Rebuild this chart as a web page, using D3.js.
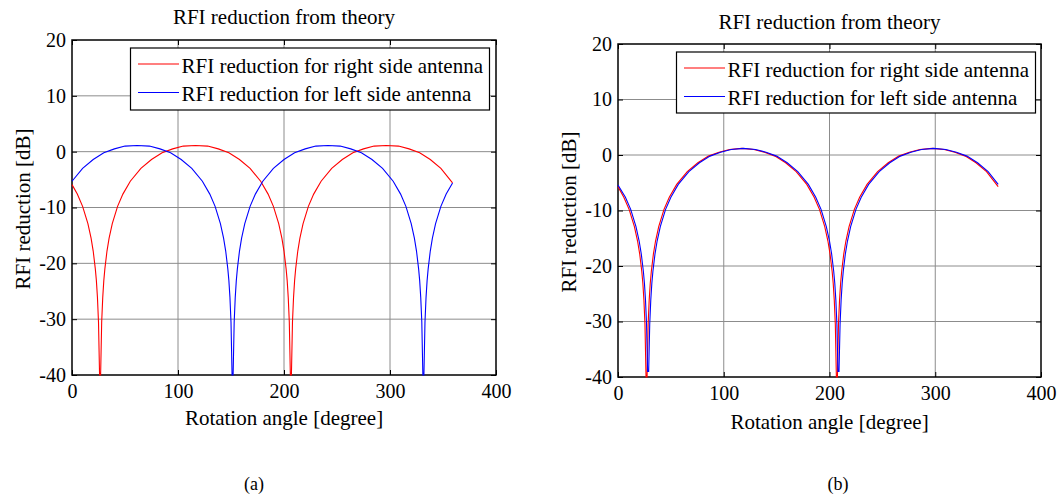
<!DOCTYPE html>
<html>
<head>
<meta charset="utf-8">
<script src="https://cdn.jsdelivr.net/npm/d3@7/dist/d3.min.js"></script>
<style>
  body { margin: 0; background: #fff; }
  svg text { font-family: "Liberation Serif", "Times New Roman", serif; fill: #000; }
</style>
</head>
<body>
<svg id="chart"></svg>
<script>
// ---- data (angle in degree, reduction in dB) ----
var xTicks = [0, 100, 200, 300, 400];
var yTicks = [-40, -30, -20, -10, 0, 10, 20];
var titleText = "RFI reduction from theory";
var xLabelText = "Rotation angle [degree]";
var yLabelText = "RFI reduction [dB]";
var legendNames = ["RFI reduction for right side antenna", "RFI reduction for left side antenna"];
var panelNames = ["(a)", "(b)"];

// panel (a), right side antenna
var angleRightA = [0, 5, 10, 15, 18, 20, 22, 23, 24, 25, 26, 27, 28, 29, 30, 31, 33, 35, 38, 43, 48, 55, 65, 75, 85, 95, 105, 116.5,
  128, 138, 148, 158, 168, 178, 185, 190, 195, 198, 200, 202, 203, 204, 205, 206, 207, 208, 209, 210, 211, 213, 215, 218, 223, 228,
  235, 245, 255, 265, 275, 285, 296.5, 308, 318, 328, 338, 348, 359];
var dbRightA = [-5.9, -7.6, -9.8, -12.9, -15.5, -17.8, -21.0, -23.1, -26.1, -30.5, -40, -40, -30.5, -26.1, -23.1, -21.0, -17.8, -15.5, -12.9, -9.8, -7.6, -5.3, -3.0, -1.4, -0.2, 0.5, 1.0, 1.1,
  1.0, 0.5, -0.2, -1.4, -3.0, -5.3, -7.6, -9.8, -12.9, -15.5, -17.8, -21.0, -23.1, -26.1, -30.5, -40, -40, -30.5, -26.1, -23.1, -21.0, -17.8, -15.5, -12.9, -9.8, -7.6,
  -5.3, -3.0, -1.4, -0.2, 0.5, 1.0, 1.1, 1.0, 0.5, -0.2, -1.4, -3.0, -5.6];

// panel (a), left side antenna
var angleLeftA = [0, 10, 20, 30, 40, 50, 61.5, 73, 83, 93, 103, 113, 123, 130, 135, 140, 143, 145, 147, 148, 149, 150, 151, 152, 153, 154, 155, 156, 158, 160, 163, 168, 173,
  180, 190, 200, 210, 220, 230, 241.5, 253, 263, 273, 283, 293, 303, 310, 315, 320, 323, 325, 327, 328, 329, 330, 331, 332, 333, 334, 335, 336, 338, 340, 343, 348, 353, 359];
var dbLeftA = [-5.3, -3.0, -1.4, -0.2, 0.5, 1.0, 1.1, 1.0, 0.5, -0.2, -1.4, -3.0, -5.3, -7.6, -9.8, -12.9, -15.5, -17.8, -21.0, -23.1, -26.1, -30.5, -40, -40, -30.5, -26.1, -23.1, -21.0, -17.8, -15.5, -12.9, -9.8, -7.6,
  -5.3, -3.0, -1.4, -0.2, 0.5, 1.0, 1.1, 1.0, 0.5, -0.2, -1.4, -3.0, -5.3, -7.6, -9.8, -12.9, -15.5, -17.8, -21.0, -23.1, -26.1, -30.5, -40, -40, -30.5, -26.1, -23.1, -21.0, -17.8, -15.5, -12.9, -9.8, -7.6, -5.6];

// panel (b), right side antenna
var angleRightB = [0, 5.5, 10.5, 15.5, 18.5, 20.5, 22.5, 23.5, 24.5, 25.5, 26.5, 27.5, 28.5, 29.5, 30.5, 31.5, 33.5, 35.5, 38.5, 43.5, 48.5, 55.5, 65.5, 75.5, 85.5, 95.5, 105.5, 117,
  128.5, 138.5, 148.5, 158.5, 168.5, 178.5, 185.5, 190.5, 195.5, 198.5, 200.5, 202.5, 203.5, 204.5, 205.5, 206.5, 207.5, 208.5, 209.5, 210.5, 211.5, 213.5, 215.5, 218.5, 223.5, 228.5,
  235.5, 245.5, 255.5, 265.5, 275.5, 285.5, 297, 308.5, 318.5, 328.5, 338.5, 348.5, 359.5];
var dbRightB = [-5.7, -7.6, -9.8, -12.9, -15.5, -17.8, -21.0, -23.1, -26.1, -30.5, -40, -40, -30.5, -26.1, -23.1, -21.0, -17.8, -15.5, -12.9, -9.8, -7.6, -5.3, -3.0, -1.4, -0.2, 0.5, 1.0, 1.2,
  1.0, 0.5, -0.2, -1.4, -3.0, -5.3, -7.6, -9.8, -12.9, -15.5, -17.8, -21.0, -23.1, -26.1, -30.5, -40, -40, -30.5, -26.1, -23.1, -21.0, -17.8, -15.5, -12.9, -9.8, -7.6,
  -5.3, -3.0, -1.4, -0.2, 0.5, 1.0, 1.2, 1.0, 0.5, -0.2, -1.4, -3.0, -5.7];

// panel (b), left side antenna
var angleLeftB = [0, 7, 12, 17, 20, 22, 24, 25, 26, 27, 28, 29, 30, 31, 32, 33, 35, 37, 40, 45, 50, 57, 67, 77, 87, 97, 107, 118.5,
  130, 140, 150, 160, 170, 180, 187, 192, 197, 200, 202, 204, 205, 206, 207, 208, 209, 210, 211, 212, 213, 215, 217, 220, 225, 230,
  237, 247, 257, 267, 277, 287, 298.5, 310, 320, 330, 340, 350, 359.5];
var dbLeftB = [-5.4, -7.6, -9.8, -12.9, -15.5, -17.8, -21.0, -23.1, -26.1, -30.5, -39, -39, -30.5, -26.1, -23.1, -21.0, -17.8, -15.5, -12.9, -9.8, -7.6, -5.3, -3.0, -1.4, -0.2, 0.5, 1.0, 1.2,
  1.0, 0.5, -0.2, -1.4, -3.0, -5.3, -7.6, -9.8, -12.9, -15.5, -17.8, -21.0, -23.1, -26.1, -30.5, -39, -39, -30.5, -26.1, -23.1, -21.0, -17.8, -15.5, -12.9, -9.8, -7.6,
  -5.3, -3.0, -1.4, -0.2, 0.5, 1.0, 1.2, 1.0, 0.5, -0.2, -1.4, -3.0, -5.3];

var redColor = "#ff0000";
var blueColor = "#0000ff";
var gridColor = "#8c8c8c";
var serif = "'Liberation Serif', 'Times New Roman', serif";

var svg = d3.select("#chart").attr("width", 1062).attr("height", 497);

// layout of each sub figure
var panels = [
  { box: [72, 496, 40, 375], titleY: 24, xLabelY: 425, yLabelX: 30, legend: [130.5, 489.5, 48, 110], capX: 254,
    series: [{ a: angleRightA, v: dbRightA, c: redColor }, { a: angleLeftA, v: dbLeftA, c: blueColor }] },
  { box: [618, 1041, 44, 377], titleY: 28.5, xLabelY: 429, yLabelX: 576, legend: [676.5, 1035.5, 52, 113], capX: 838,
    series: [{ a: angleRightB, v: dbRightB, c: redColor }, { a: angleLeftB, v: dbLeftB, c: blueColor }] }
];

panels.forEach(function(p, k){
  var x0 = p.box[0], x1 = p.box[1], y0 = p.box[2], y1 = p.box[3];
  var xScale = d3.scaleLinear().domain([0, 400]).range([x0, x1]);
  var yScale = d3.scaleLinear().domain([-40, 20]).range([y1, y0]);
  var g = svg.append("g");

  // grid
  g.append("g").selectAll("line").data(xTicks.slice(1, -1)).enter().append("line")
    .attr("x1", d => xScale(d)).attr("x2", d => xScale(d))
    .attr("y1", y0).attr("y2", y1)
    .attr("stroke", gridColor).attr("stroke-width", 1);
  g.append("g").selectAll("line").data(yTicks.slice(1, -1)).enter().append("line")
    .attr("x1", x0).attr("x2", x1)
    .attr("y1", d => yScale(d)).attr("y2", d => yScale(d))
    .attr("stroke", gridColor).attr("stroke-width", 1);

  // axes, ticks pointing inwards
  var bottom = g.append("g").attr("transform", "translate(0," + y1 + ")")
    .call(d3.axisBottom(xScale).tickValues(xTicks).tickSize(-5).tickPadding(9).tickFormat(d3.format("d")));
  var left = g.append("g").attr("transform", "translate(" + x0 + ",0)")
    .call(d3.axisLeft(yScale).tickValues(yTicks).tickSize(-5).tickPadding(6).tickFormat(d => d < 0 ? "-" + Math.abs(d) : d));
  var top = g.append("g").attr("transform", "translate(0," + y0 + ")")
    .call(d3.axisTop(xScale).tickValues(xTicks).tickSize(-5).tickFormat(""));
  var right = g.append("g").attr("transform", "translate(" + x1 + ",0)")
    .call(d3.axisRight(yScale).tickValues(yTicks).tickSize(-5).tickFormat(""));
  [bottom, left, top, right].forEach(function(ax){
    ax.attr("font-family", serif).attr("font-size", 20);
    ax.select(".domain").remove();
    ax.selectAll("line").attr("stroke", "#000").attr("stroke-width", 1);
    ax.selectAll("text").attr("font-family", serif).style("font-size", "20px");
  });
  g.append("rect").attr("x", x0).attr("y", y0).attr("width", x1 - x0).attr("height", y1 - y0)
    .attr("fill", "none").attr("stroke", "#000").attr("stroke-width", 1.5);

  // curves
  var line = d3.line().x(d => xScale(d[0])).y(d => yScale(d[1]));
  p.series.forEach(function(s){
    g.append("path")
      .datum(s.a.map((a, i) => [a, s.v[i]]))
      .attr("d", line).attr("fill", "none")
      .attr("stroke", s.c).attr("stroke-width", 1.1);
  });

  // legend
  var lg = p.legend;
  g.append("rect").attr("x", lg[0]).attr("y", lg[2]).attr("width", lg[1] - lg[0]).attr("height", lg[3] - lg[2])
    .attr("fill", "#fff").attr("stroke", "#000").attr("stroke-width", 1.2);
  p.series.forEach(function(s, i){
    var ly = lg[2] + 16 + i * 28.5;
    g.append("line").attr("x1", lg[0] + 7.5).attr("x2", lg[0] + 48.5).attr("y1", ly).attr("y2", ly)
      .attr("stroke", s.c).attr("stroke-width", 1.1);
    g.append("text").attr("x", lg[0] + 51).attr("y", ly + 8.5)
      .style("font-size", "21px").text(legendNames[i]);
  });

  // texts
  g.append("text").attr("x", (x0 + x1) / 2).attr("y", p.titleY).attr("text-anchor", "middle")
    .style("font-size", "21px").text(titleText);
  g.append("text").attr("x", (x0 + x1) / 2).attr("y", p.xLabelY).attr("text-anchor", "middle")
    .style("font-size", "21px").text(xLabelText);
  g.append("text").attr("transform", "translate(" + p.yLabelX + "," + ((y0 + y1) / 2 + 1.5) + ") rotate(-90)")
    .attr("text-anchor", "middle").style("font-size", "21px").text(yLabelText);
  g.append("text").attr("x", p.capX).attr("y", 490).attr("text-anchor", "middle")
    .style("font-size", "18px").text(panelNames[k]);
});
</script>
</body>
</html>
